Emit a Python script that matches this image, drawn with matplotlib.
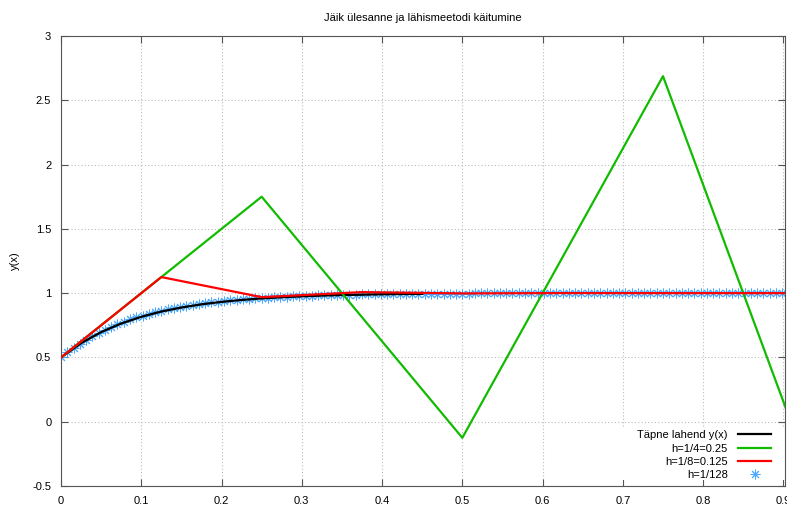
import numpy as np
import matplotlib
matplotlib.use("Agg")
import matplotlib.pyplot as plt
from matplotlib.patches import Rectangle

plt.rcParams["font.family"] = ["Liberation Sans", "DejaVu Sans"]

# exact solution y(x)
x_exact = [0.0, 0.025, 0.05, 0.075, 0.1, 0.125, 0.15, 0.175, 0.2, 0.225,
           0.25, 0.275, 0.3, 0.325, 0.35, 0.375, 0.4, 0.425, 0.45]
y_exact = [0.5, 0.611, 0.697, 0.764, 0.816, 0.857, 0.888, 0.913, 0.932, 0.947,
           0.959, 0.968, 0.975, 0.981, 0.985, 0.988, 0.991, 0.993, 0.994]

# h = 1/4
y_h4 = [0.5, 1.75, -0.125, 2.6875, -1.53125]
# h = 1/8
y_h8 = [0.5, 1.125, 0.969, 1.008, 0.998, 1.0005, 1.0, 1.0, 1.0]
# h = 1/128
y_h128 = ([0.5, 0.539, 0.575, 0.608, 0.639, 0.667, 0.693, 0.717, 0.739, 0.760,
           0.778, 0.796, 0.812, 0.826, 0.840, 0.852, 0.864, 0.875, 0.884, 0.893,
           0.902, 0.909, 0.916, 0.923, 0.929, 0.935, 0.940, 0.944, 0.949, 0.953,
           0.956, 0.960, 0.963, 0.966, 0.969, 0.971, 0.973, 0.975, 0.977, 0.979,
           0.981, 0.982, 0.984, 0.985, 0.986, 0.987, 0.988, 0.989, 0.990, 0.991,
           0.991, 0.992, 0.993, 0.993, 0.994, 0.994, 0.995, 0.995, 0.996, 0.996,
           0.996, 0.997, 0.997, 0.997, 0.997, 0.997]
          + [0.998] * 7 + [0.999] * 12 + [1.0] * 44)

labels = ["Täpne lahend y(x)", "h=1/4=0.25", "h=1/8=0.125", "h=1/128"]

x_h4 = np.arange(len(y_h4)) / 4
x_h8 = np.arange(len(y_h8)) / 8
x_h128 = np.arange(len(y_h128)) / 128

fig = plt.figure(figsize=(7.87, 5.22), dpi=100)
ax = fig.add_axes([61 / 787, 36 / 522, (785 - 61) / 787, (486 - 36) / 522])

ax.plot(x_h128, y_h128, linestyle="none", marker=(8, 2, 0), markersize=7,
        markeredgewidth=0.7, color="#4aa8ff", label=labels[3], zorder=2)
ax.plot(x_exact, y_exact, color="black", lw=1.6, label=labels[0], zorder=3)
ax.plot(x_h4, y_h4, color="#11bb00", lw=1.6, label=labels[1], zorder=4)
ax.plot(x_h8, y_h8, color="#ff0000", lw=1.6, label=labels[2], zorder=5)

ax.set_xlim(0, 0.902)
ax.set_ylim(-0.5, 3)
ax.set_xticks(np.arange(0, 0.95, 0.1))
ax.set_xticklabels(["0", "0.1", "0.2", "0.3", "0.4", "0.5", "0.6", "0.7", "0.8", "0.9"])
ax.set_yticks(np.arange(-0.5, 3.01, 0.5))
ax.set_yticklabels(["-0.5", "0", "0.5", "1", "1.5", "2", "2.5", "3"])
ax.tick_params(direction="in", top=True, right=True, labelsize=8, length=5,
               color="#555555", pad=7)
ax.grid(True, color="#bbbbbb", linestyle=(0, (1, 2)), linewidth=0.8)
for s in ax.spines.values():
    s.set_color("#555555")

# blank key area (grid is hidden behind the key, like gnuplot)
ax.add_patch(Rectangle(((600 - 61) / 724, 6 / 450), (785 - 600) / 724, (486 - 427 - 6) / 450,
                       transform=ax.transAxes, facecolor="white", edgecolor="none",
                       zorder=1.6))

ax.set_title("Jäik ülesanne ja lähismeetodi käitumine", fontsize=8, pad=11)
ax.set_xlabel("x", fontsize=8, labelpad=16)
ax.set_ylabel("y(x)", fontsize=8, labelpad=9)

h, l = ax.get_legend_handles_labels()
order = [1, 2, 3, 0]
leg = ax.legend([h[i] for i in order], [l[i] for i in order], loc="lower right",
                bbox_to_anchor=(1 - 6 / 724, -2 / 450),
                frameon=False, markerfirst=False, fontsize=8, handlelength=3,
                labelspacing=0.3, borderaxespad=0.3, handletextpad=0.9)
for t in leg.get_texts():
    t.set_ha("right")
leg._legend_box.align = "right"

fig.savefig("out.png", dpi=100)
